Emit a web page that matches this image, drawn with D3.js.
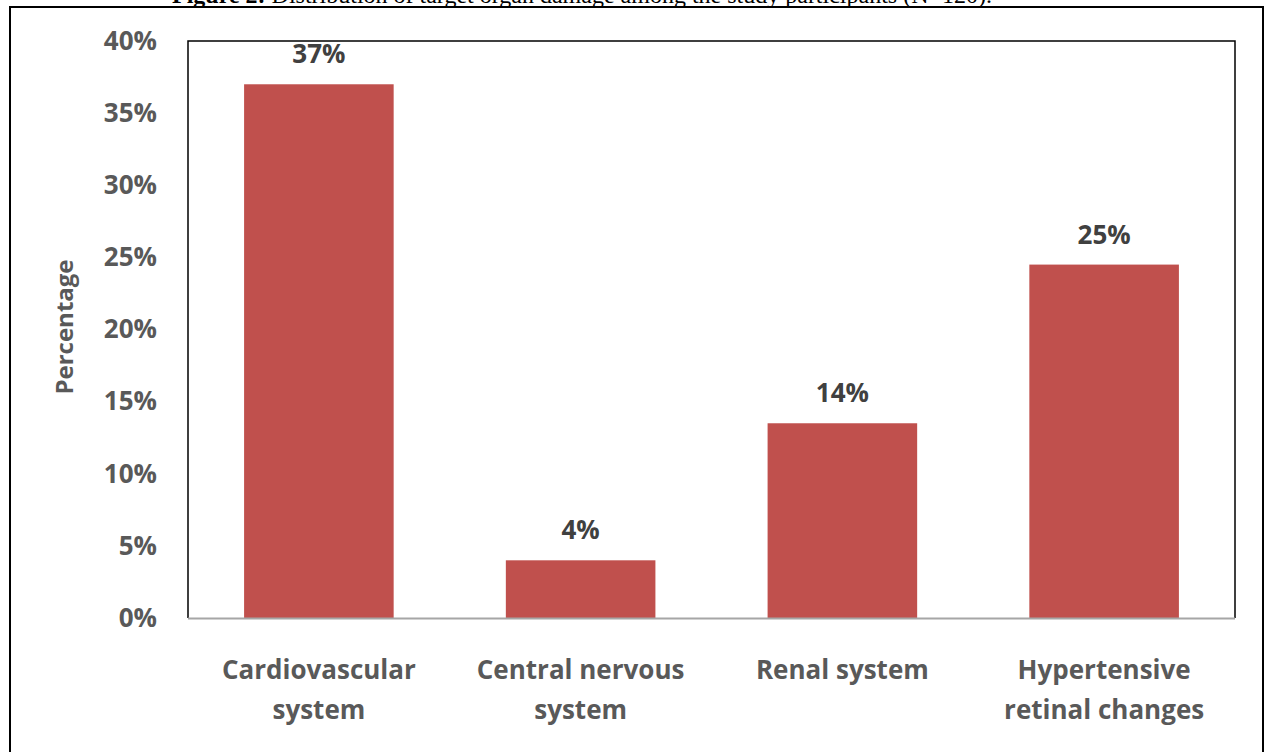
<!DOCTYPE html>
<html>
<head>
<meta charset="utf-8">
<script src="https://cdn.jsdelivr.net/npm/d3@7"></script>
<style>
  html, body { margin: 0; padding: 0; background: #ffffff; overflow: hidden; }
  svg { display: block; }
</style>
</head>
<body>
<svg id="chart" width="1264" height="752"></svg>
<script>
// Target organ damage categories (two-line labels)
const categories = [
  ["Cardiovascular", "system"],
  ["Central nervous", "system"],
  ["Renal system"],
  ["Hypertensive", "retinal changes"]
];
// Share of participants, in percent
const percentages = [37, 4, 13.5, 24.5];
// Y axis ticks, in percent
const yTicks = [0, 5, 10, 15, 20, 25, 30, 35, 40];

const captionBold = "Figure 2:";
const captionRest = " Distribution of target organ damage among the study participants (N=120).";

const W = 1264, H = 752;
const plot = { left: 188, top: 41, right: 1235, bottom: 618 };

const svg = d3.select("#chart");
const font = "'Open Sans', 'Noto Sans', sans-serif";

// Figure caption (sits partly above the page edge)
const cap = svg.append("text")
  .attr("x", 172).attr("y", 3)
  .attr("font-family", "'Liberation Serif', 'Times New Roman', serif")
  .attr("font-size", 24)
  .attr("fill", "#000");
cap.append("tspan").attr("font-weight", "bold").text(captionBold);
cap.append("tspan").text(captionRest);

// Outer frame
svg.append("rect")
  .attr("x", 10).attr("y", 7)
  .attr("width", 1253).attr("height", 760)
  .attr("fill", "none").attr("stroke", "#000").attr("stroke-width", 2);

const x = d3.scaleBand()
  .domain(d3.range(categories.length))
  .range([plot.left, plot.right])
  .paddingInner(0.75 / 1.75)
  .paddingOuter(0.75 / 3.5);

const y = d3.scaleLinear()
  .domain([0, 40])
  .range([plot.bottom, plot.top]);

// Plot area border (left, top, right)
svg.append("path")
  .attr("d", `M${plot.left},${plot.bottom} V${plot.top} H${plot.right} V${plot.bottom}`)
  .attr("fill", "none").attr("stroke", "#000").attr("stroke-width", 1.5);

// Bars
svg.append("g").selectAll("rect")
  .data(percentages)
  .join("rect")
  .attr("x", (d, i) => x(i))
  .attr("y", d => y(d))
  .attr("width", x.bandwidth())
  .attr("height", d => y(0) - y(d))
  .attr("fill", "#C0504D");

// Category axis line
svg.append("line")
  .attr("x1", plot.left).attr("x2", plot.right)
  .attr("y1", y(0) + 0.5).attr("y2", y(0) + 0.5)
  .attr("stroke", "#a6a6a6").attr("stroke-width", 2);

// Y axis labels
const yAxis = d3.axisLeft(y)
  .tickValues(yTicks)
  .tickFormat(d => d + "%")
  .tickSize(0)
  .tickPadding(31);
const yg = svg.append("g")
  .attr("transform", `translate(${plot.left},0)`)
  .call(yAxis);
yg.select(".domain").remove();
yg.selectAll("text")
  .attr("font-family", font)
  .attr("font-size", 26)
  .attr("font-weight", "bold")
  .attr("fill", "#595959");

// Y axis title
svg.append("text")
  .attr("transform", `translate(73,327) rotate(-90)`)
  .attr("text-anchor", "middle")
  .attr("font-family", font)
  .attr("font-size", 24)
  .attr("font-weight", "bold")
  .attr("fill", "#595959")
  .text("Percentage");

// Value labels
svg.append("g").selectAll("text")
  .data(percentages)
  .join("text")
  .attr("x", (d, i) => x(i) + x.bandwidth() / 2)
  .attr("y", d => y(d) - 21)
  .attr("text-anchor", "middle")
  .attr("font-family", font)
  .attr("font-size", 26)
  .attr("font-weight", "bold")
  .attr("fill", "#404040")
  .text(d => Math.round(d) + "%");

// Category labels
const cg = svg.append("g").selectAll("text")
  .data(categories)
  .join("text")
  .attr("x", (d, i) => x(i) + x.bandwidth() / 2)
  .attr("y", 679)
  .attr("text-anchor", "middle")
  .attr("font-family", font)
  .attr("font-size", 26)
  .attr("font-weight", "bold")
  .attr("fill", "#595959");
cg.selectAll("tspan")
  .data(d => d)
  .join("tspan")
  .attr("x", function () { return d3.select(this.parentNode).attr("x"); })
  .attr("dy", (d, i) => i === 0 ? 0 : 40)
  .text(d => d);
</script>
</body>
</html>
